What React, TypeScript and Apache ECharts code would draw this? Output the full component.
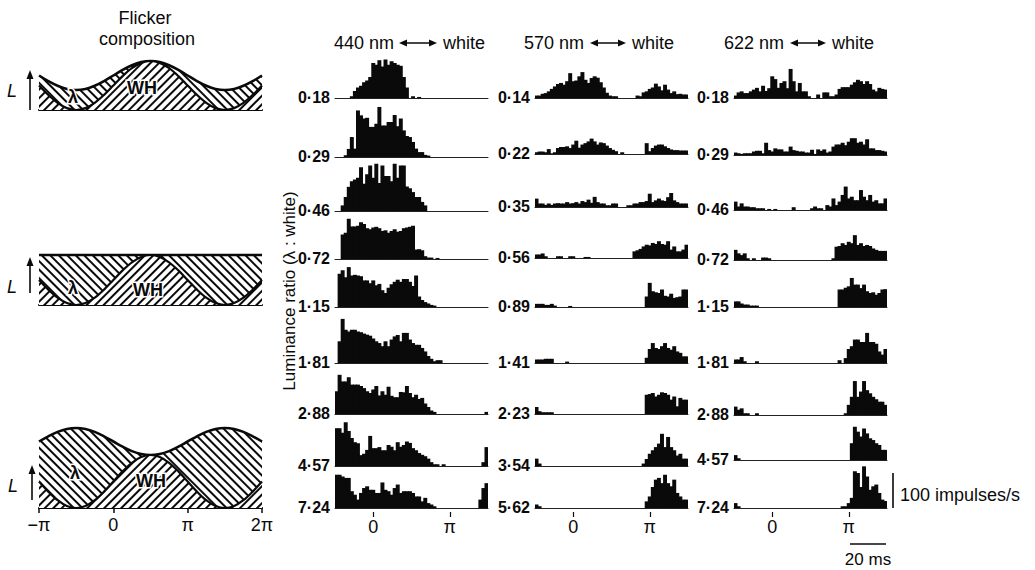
import React, { useEffect, useRef } from 'react';
import * as echarts from 'echarts';

const FONT = '"Liberation Sans", Arial, Helvetica, sans-serif';
const INK = '#0a0a0a';

// ---------- text content ----------
const flickerTitle = ['Flicker', 'composition'];
const phaseTicks = ['\u2212\u03c0', '0', '\u03c0', '2\u03c0'];
const psthTicks = ['0', '\u03c0'];
const wavelengths = ['440 nm', '570 nm', '622 nm'];
const partner = 'white';
const yTitle = 'Luminance ratio (\u03bb : white)';
const rateScale = '100 impulses/s';
const timeScale = '20 ms';

const ratios440 = ['0·18', '0·29', '0·46', '0·72', '1·15', '1·81', '2·88', '4·57', '7·24'];
const ratios570 = ['0·14', '0·22', '0·35', '0·56', '0·89', '1·41', '2·23', '3·54', '5·62'];
const ratios622 = ['0·18', '0·29', '0·46', '0·72', '1·15', '1·81', '2·88', '4·57', '7·24'];

// ---------- flicker composition (relative luminance, steps of pi/8 from -pi to 2pi) ----------
const phaseSteps = [-1, -0.875, -0.75, -0.625, -0.5, -0.375, -0.25, -0.125, 0, 0.125, 0.25, 0.375, 0.5, 0.625, 0.75, 0.875, 1, 1.125, 1.25, 1.375, 1.5, 1.625, 1.75, 1.875, 2];
const whLow = [24.5, 15.1, 7.2, 1.9, 0, 1.9, 7.2, 15.1, 24.5, 33.9, 41.8, 47.1, 49, 47.1, 41.8, 33.9, 24.5, 15.1, 7.2, 1.9, 0, 1.9, 7.2, 15.1, 24.5];
const lamLow = [10, 13.8, 17.1, 19.2, 20, 19.2, 17.1, 13.8, 10, 6.2, 2.9, 0.8, 0, 0.8, 2.9, 6.2, 10, 13.8, 17.1, 19.2, 20, 19.2, 17.1, 13.8, 10];
const whMid = [25, 15.4, 7.3, 1.9, 0, 1.9, 7.3, 15.4, 25, 34.6, 42.7, 48.1, 50, 48.1, 42.7, 34.6, 25, 15.4, 7.3, 1.9, 0, 1.9, 7.3, 15.4, 25];
const lamMid = [25, 34.6, 42.7, 48.1, 50, 48.1, 42.7, 34.6, 25, 15.4, 7.3, 1.9, 0, 1.9, 7.3, 15.4, 25, 34.6, 42.7, 48.1, 50, 48.1, 42.7, 34.6, 25];
const whHigh = [26.5, 16.4, 7.8, 2, 0, 2, 7.8, 16.4, 26.5, 36.6, 45.2, 51, 53, 51, 45.2, 36.6, 26.5, 16.4, 7.8, 2, 0, 2, 7.8, 16.4, 26.5];
const lamHigh = [40, 55.3, 68.3, 77, 80, 77, 68.3, 55.3, 40, 24.7, 11.7, 3, 0, 3, 11.7, 24.7, 40, 55.3, 68.3, 77, 80, 77, 68.3, 55.3, 40];

// ---------- PSTHs (impulses/s, 50 bins per cycle, from -pi/2 to 3pi/2) ----------
const psth440: number[][] = [
  [0,0,0,0,0,5,20,30,35,45, 50,60,100,95,108,90,110,95,105,100, 95,92,60,30,0,5,0,3,0,0, 0,0,0,0,0,0,0,0,0,0, 0,0,0,0,0,0,0,0,0,0],
  [0,0,0,5,23,57,24,133,119,110, 112,86,86,95,143,90,90,100,100,120, 88,110,76,60,57,43,24,14,14,6, 4,0,0,0,0,0,0,0,0,0, 0,0,0,0,0,0,0,0,0,0],
  [0,0,16,40,69,85,90,95,125,78, 105,130,95,135,80,130,100,100,85,135, 95,130,130,70,65,54,40,40,26,16, 0,0,0,0,0,0,0,0,0,0, 0,0,0,0,0,0,0,0,0,0],
  [0,0,70,75,115,93,93,95,105,100, 88,85,90,92,88,80,82,75,80,85, 78,80,88,90,92,95,27,28,25,8, 4,4,0,3,0,0,0,0,0,0, 0,0,0,0,0,0,0,0,0,0],
  [0,95,105,85,114,90,92,90,88,76, 76,68,76,62,66,48,40,55,65,72, 78,72,80,80,72,60,90,30,20,14, 10,6,4,0,0,0,0,0,0,0, 0,0,0,0,0,0,0,0,0,0],
  [0,62,126,95,90,95,95,90,88,84, 81,78,70,62,57,48,62,48,67,76, 80,62,86,86,67,57,52,52,43,33, 20,12,5,8,8,0,0,0,0,0, 0,0,0,0,0,0,0,0,0,0],
  [65,112,93,93,105,84,84,84,80,74, 65,60,70,80,53,65,55,78,52,48, 48,63,62,80,60,48,55,43,46,30, 20,10,6,0,0,0,0,0,0,0, 0,0,0,0,0,0,0,0,0,6],
  [108,108,95,125,100,80,68,65,31,35, 46,86,51,51,54,45,45,60,55,45, 68,55,60,70,66,51,45,37,32,28, 21,11,5,5,0,5,0,0,0,0, 0,0,0,0,0,0,0,0,11,54],
  [95,95,90,86,86,48,38,24,43,57, 62,52,52,43,43,73,52,48,38,57, 67,43,48,48,48,43,33,33,19,29, 14,10,5,0,0,0,0,0,0,0, 0,0,0,0,0,0,0,24,57,71],
];
const psth570: number[][] = [
  [7,7,12,14,19,26,33,40,43,38, 48,71,48,50,62,74,52,43,57,62, 58,45,30,15,7,5,5,0,0,0, 0,0,0,7,5,16,19,26,30,41, 33,22,38,24,14,19,11,12,10,10],
  [5,7,7,5,14,2,5,17,20,20, 22,17,27,38,18,27,31,36,44,36, 27,33,31,24,17,12,8,0,5,0, 0,0,0,0,0,0,31,8,17,24, 27,27,22,17,13,11,11,10,10,10],
  [24,10,10,6,10,6,10,11,10,10, 14,10,11,14,10,17,14,21,12,29, 14,10,10,5,5,10,10,0,0,0, 5,5,10,10,14,14,17,38,14,19, 24,19,17,28,40,19,14,10,10,10],
  [10,10,13,5,0,0,0,5,5,0, 0,5,5,0,0,0,3,3,0,0, 0,0,0,0,0,0,0,0,0,0, 0,0,19,22,26,33,38,36,43,40, 48,40,38,48,24,33,19,19,24,38],
  [9,9,9,6,6,9,4,0,0,0, 0,3,0,0,0,0,0,0,0,0, 0,0,0,0,0,0,0,0,0,0, 0,0,0,0,0,0,30,69,45,42, 40,50,32,30,38,26,28,30,50,50],
  [10,10,10,12,12,12,0,0,0,0, 4,0,0,0,0,0,0,0,0,0, 0,0,0,0,0,0,0,0,0,0, 0,0,0,0,0,0,15,40,57,43, 40,48,57,43,38,48,33,29,19,19],
  [20,8,5,5,5,5,0,0,0,0, 0,0,0,0,0,0,0,0,0,0, 0,0,0,0,0,0,0,0,0,0, 0,0,0,0,0,0,55,57,60,50, 55,62,60,55,41,50,22,46,41,41],
  [21,7,0,0,0,0,0,0,0,0, 0,0,0,0,0,0,0,0,0,0, 0,0,0,0,0,0,0,0,0,0, 0,0,0,0,0,7,20,35,45,54, 64,92,54,83,54,45,30,35,21,21],
  [10,5,0,0,0,0,0,0,0,0, 0,0,0,0,0,0,0,0,0,0, 0,0,0,0,0,0,0,0,0,0, 0,0,0,0,0,0,19,33,60,81, 86,71,95,71,62,81,43,33,24,24],
];
const psth622: number[][] = [
  [7,16,19,14,14,19,24,29,19,35, 20,28,62,54,29,43,48,28,83,48, 19,43,19,19,5,0,0,10,0,16, 16,5,5,10,26,31,31,31,38,45, 52,48,40,48,40,24,19,29,26,24],
  [7,5,3,5,5,5,10,12,12,5, 35,14,10,19,16,16,10,10,24,14, 12,10,10,7,7,15,3,16,12,16, 7,10,24,30,30,35,28,38,48,48, 35,38,30,45,19,19,14,14,12,10],
  [24,10,19,10,10,8,8,5,5,5, 0,3,0,3,0,0,0,0,0,8, 0,0,0,0,0,5,10,5,5,0, 14,10,33,14,24,43,67,33,38,28, 28,57,38,28,43,24,28,19,19,33],
  [29,19,14,19,5,0,5,0,0,7, 7,5,0,0,0,0,0,0,0,0, 0,0,0,0,0,0,0,0,0,0, 0,0,5,38,40,48,43,52,48,71, 43,48,40,43,40,33,29,26,26,26],
  [16,16,10,7,7,4,4,4,0,0, 0,0,0,0,0,0,0,0,0,0, 0,0,0,0,0,0,0,0,0,0, 0,0,0,0,50,50,55,59,83,64, 64,54,64,45,40,42,35,40,50,51],
  [10,10,17,5,0,0,0,5,0,0, 0,0,0,0,0,0,0,0,0,0, 0,0,0,0,0,0,0,0,0,0, 0,0,0,0,8,0,14,40,48,67, 67,60,60,86,60,60,55,33,24,40],
  [24,15,19,5,5,0,0,5,0,0, 0,0,0,0,0,0,0,0,0,0, 0,0,0,0,0,0,0,0,0,0, 0,0,0,0,0,0,5,29,52,97, 52,67,97,71,62,52,45,38,38,29],
  [14,5,0,0,0,0,0,0,0,0, 0,0,0,0,0,0,0,0,0,0, 0,0,0,0,0,0,0,0,0,0, 0,0,0,0,0,0,0,0,48,95, 81,67,90,76,62,57,48,43,29,29],
  [14,5,0,0,0,0,0,0,0,0, 0,0,0,0,0,0,0,0,0,0, 0,0,0,0,0,0,0,0,0,0, 0,0,0,0,0,5,5,14,29,105, 100,60,119,90,52,62,67,43,24,20],
];

// ---------- layout ----------
const COL_LEFT = [335, 535, 734];
const COL_W = 153;
const ROW_BASE = [
  [98, 157, 211, 259, 307, 363, 414, 466, 508],
  [98, 154, 207, 258, 307, 363, 414, 466, 508],
  [98, 155, 210, 260, 307, 363, 415, 460, 508],
];
const PX_PER_UNIT = 0.35; // 100 impulses/s = 35 px
const Y_MAX = 150;
const FL_PANELS = [
  { top: 50, h: 60 },
  { top: 245, h: 60 },
  { top: 418, h: 90 },
];

function buildOption() {
  const grids: any[] = [];
  const xAxes: any[] = [];
  const yAxes: any[] = [];
  const series: any[] = [];
  const g: any[] = [];

  const hatchWH = {
    symbol: 'rect', symbolSize: 1, color: INK, backgroundColor: '#fff',
    dashArrayX: [1, 0], dashArrayY: [1.4, 3.4], rotation: -Math.PI / 4,
  };
  const hatchLam = {
    symbol: 'rect', symbolSize: 1, color: INK, backgroundColor: '#fff',
    dashArrayX: [1, 0], dashArrayY: [1.4, 3.6], rotation: Math.PI / 4,
  };

  const whSets = [whLow, whMid, whHigh];
  const lamSets = [lamLow, lamMid, lamHigh];
  const phaseCats = phaseSteps.map((p) => String(p));
  FL_PANELS.forEach((p, i) => {
    const gi = grids.length;
    grids.push({ left: 39, width: 223, top: p.top, height: p.h });
    const xi = xAxes.length;
    xAxes.push({
      type: 'category', gridIndex: gi, data: phaseCats, boundaryGap: false,
      axisLine: { show: true, onZero: false, lineStyle: { color: INK, width: 2 } },
      axisTick: { show: i === 2, interval: 7, length: 5, lineStyle: { color: INK, width: 1.5 } },
      axisLabel: {
        show: i === 2, interval: 7, margin: 8, fontSize: 18, color: INK, fontFamily: FONT,
        formatter: (_v: string, idx: number) => phaseTicks[Math.round(idx / 8)],
      },
      splitLine: { show: false },
    });
    const yi = yAxes.length;
    yAxes.push({ type: 'value', gridIndex: gi, min: 0, max: p.h, show: false });
    series.push({
      type: 'line', xAxisIndex: xi, yAxisIndex: yi, stack: 'fl' + i, smooth: 0.35,
      symbol: 'none', z: 3, silent: true,
      data: whSets[i],
      lineStyle: { color: INK, width: 2.2, decal: hatchWH },
      itemStyle: { color: INK, decal: hatchWH },
      areaStyle: { color: '#fff', opacity: 1 },
    });
    series.push({
      type: 'line', xAxisIndex: xi, yAxisIndex: yi, stack: 'fl' + i, smooth: 0.35,
      symbol: 'none', z: 2, silent: true,
      data: lamSets[i],
      lineStyle: { color: INK, width: 2.6, decal: hatchLam },
      itemStyle: { color: INK, decal: hatchLam },
      areaStyle: { color: '#fff', opacity: 1 },
    });
  });

  const PSTH = [psth440, psth570, psth622];
  const RATIOS = [ratios440, ratios570, ratios622];
  const gridH = Y_MAX * PX_PER_UNIT;
  const binIds = psth440[0].map((_, k) => String(k));
  const barW = COL_W / binIds.length + 0.9;
  for (let c = 0; c < 3; c++) {
    for (let r = 0; r < 9; r++) {
      const base = ROW_BASE[c][r];
      const gi = grids.length;
      grids.push({ left: COL_LEFT[c], width: COL_W, top: base - gridH, height: gridH });
      const xi = xAxes.length;
      xAxes.push({
        type: 'category', gridIndex: gi, data: binIds, boundaryGap: true, position: 'bottom',
        axisLine: { show: true, lineStyle: { color: '#222', width: 1 } },
        axisTick: { show: false }, axisLabel: { show: false }, splitLine: { show: false },
      });
      const yi = yAxes.length;
      yAxes.push({ type: 'value', gridIndex: gi, min: 0, max: Y_MAX, show: false });
      series.push({
        type: 'bar', xAxisIndex: xi, yAxisIndex: yi, data: PSTH[c][r], silent: true,
        barWidth: barW,
        itemStyle: { color: INK },
      });
      if (r === 8) {
        xAxes.push({
          type: 'value', gridIndex: gi, min: -0.5, max: 1.5, interval: 0.5, position: 'bottom', offset: 4,
          axisLine: { show: false },
          axisTick: { show: true, customValues: [0, 1], length: 5, lineStyle: { color: INK, width: 1.2 } },
          axisLabel: {
            show: true, customValues: [0, 1], margin: 6, fontSize: 18, color: INK, fontFamily: FONT,
            formatter: (v: number) => psthTicks[Math.round(v)],
          },
          splitLine: { show: false },
        });
      }
      g.push({
        type: 'text', x: COL_LEFT[c] - 5, y: base - 1, silent: true,
        style: { text: RATIOS[c][r], fill: INK, font: `bold 16px ${FONT}`, align: 'right', verticalAlign: 'middle' },
      });
    }
  }

  // titles of flicker panel
  g.push({ type: 'text', x: 145, y: 18, style: { text: flickerTitle[0], fill: INK, font: `18px ${FONT}`, align: 'center', verticalAlign: 'middle' } });
  g.push({ type: 'text', x: 147, y: 39, style: { text: flickerTitle[1], fill: INK, font: `18px ${FONT}`, align: 'center', verticalAlign: 'middle' } });

  // L labels + arrows
  const Lpos = [
    { lx: 12, ly: 91, ax: 30, y0: 110, y1: 70 },
    { lx: 12, ly: 287, ax: 30, y0: 293, y1: 257 },
    { lx: 13, ly: 486, ax: 32, y0: 500, y1: 465 },
  ];
  Lpos.forEach((p) => {
    g.push({ type: 'text', x: p.lx, y: p.ly, style: { text: 'L', fill: INK, font: `italic 18px ${FONT}`, align: 'center', verticalAlign: 'middle' } });
    g.push({ type: 'line', shape: { x1: p.ax, y1: p.y0, x2: p.ax, y2: p.y1 + 5 }, style: { stroke: INK, lineWidth: 1.6 } });
    g.push({ type: 'polygon', shape: { points: [[p.ax - 3.5, p.y1 + 9], [p.ax, p.y1], [p.ax + 3.5, p.y1 + 9]] }, style: { fill: INK } });
  });

  // lambda / WH labels
  const regionLabels = [
    { t: '\u03bb', x: 73, y: 97 }, { t: 'WH', x: 142, y: 88 },
    { t: '\u03bb', x: 73, y: 288 }, { t: 'WH', x: 148, y: 290 },
    { t: '\u03bb', x: 75, y: 473 }, { t: 'WH', x: 151, y: 481 },
  ];
  regionLabels.forEach((l) => {
    g.push({
      type: 'text', x: l.x, y: l.y, z: 100,
      style: { text: l.t, fill: INK, font: `bold 18px ${FONT}`, align: 'center', verticalAlign: 'middle', stroke: '#fff', lineWidth: 3 },
    });
  });

  // column headers
  const heads = [
    { r: 394, a0: 399, a1: 437, w: 443 },
    { r: 584, a0: 590, a1: 626, w: 632 },
    { r: 784, a0: 790, a1: 826, w: 832 },
  ];
  heads.forEach((h, i) => {
    const y = 43;
    g.push({ type: 'text', x: h.r, y, style: { text: wavelengths[i], fill: INK, font: `18px ${FONT}`, align: 'right', verticalAlign: 'middle' } });
    g.push({ type: 'text', x: h.w, y, style: { text: partner, fill: INK, font: `18px ${FONT}`, align: 'left', verticalAlign: 'middle' } });
    g.push({ type: 'line', shape: { x1: h.a0 + 5, y1: y, x2: h.a1 - 5, y2: y }, style: { stroke: INK, lineWidth: 1.5 } });
    g.push({ type: 'polygon', shape: { points: [[h.a0 + 8, y - 3.5], [h.a0, y], [h.a0 + 8, y + 3.5]] }, style: { fill: INK } });
    g.push({ type: 'polygon', shape: { points: [[h.a1 - 8, y - 3.5], [h.a1, y], [h.a1 - 8, y + 3.5]] }, style: { fill: INK } });
  });

  // y title
  g.push({
    type: 'text', x: 289, y: 291, rotation: Math.PI / 2,
    style: { text: yTitle, fill: INK, font: `17px ${FONT}`, align: 'center', verticalAlign: 'middle' },
  });

  // scale bars
  g.push({ type: 'line', shape: { x1: 893, y1: 473, x2: 893, y2: 473 + 100 * PX_PER_UNIT }, style: { stroke: INK, lineWidth: 1.6 } });
  g.push({ type: 'text', x: 900, y: 495, style: { text: rateScale, fill: INK, font: `18px ${FONT}`, align: 'left', verticalAlign: 'middle' } });
  g.push({ type: 'line', shape: { x1: 850, y1: 544, x2: 886, y2: 544 }, style: { stroke: INK, lineWidth: 1.6 } });
  g.push({ type: 'text', x: 868, y: 559, style: { text: timeScale, fill: INK, font: `17px ${FONT}`, align: 'center', verticalAlign: 'middle' } });

  return {
    animation: false,
    backgroundColor: '#fff',
    grid: grids,
    xAxis: xAxes,
    yAxis: yAxes,
    series,
    graphic: { elements: g },
  };
}

export default function App() {
  const ref = useRef<HTMLDivElement>(null);
  useEffect(() => {
    const chart = echarts.init(ref.current as HTMLDivElement, null, { renderer: 'svg' });
    chart.setOption(buildOption() as any);
    return () => chart.dispose();
  }, []);
  return (
    <div
      ref={ref}
      style={{ position: 'fixed', left: 0, top: 0, width: 1035, height: 570, background: '#fff' }}
    />
  );
}
